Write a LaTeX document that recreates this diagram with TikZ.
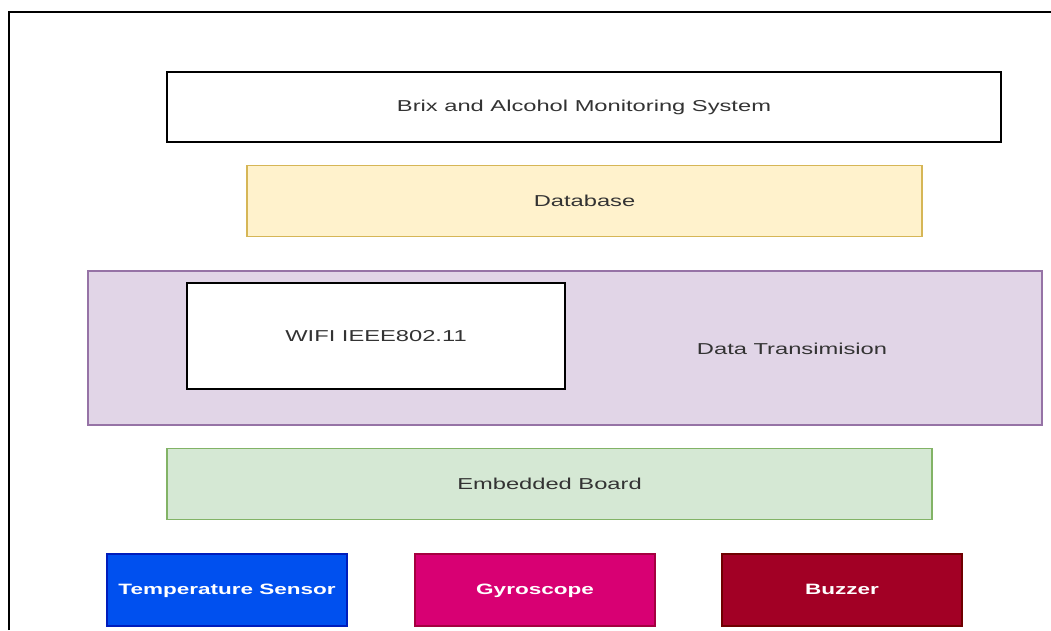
\documentclass[tikz,border=0pt]{standalone}
\usepackage{fontspec}
\setmainfont[FakeStretch=1.5]{Liberation Sans}
\usepackage{tikz}

\begin{document}
\begin{tikzpicture}[x=1pt,y=1pt,yscale=-1,xscale=1,
  blk/.style={draw, line width=1.2pt, inner sep=0pt, outer sep=0pt, font=\fontsize{15.8}{18}\selectfont, text={rgb, 255:red, 51; green, 51; blue, 51 }},
  part/.style={blk, text=white, font=\fontsize{15}{18}\selectfont\bfseries, text height=11pt, text depth=3pt, minimum width=240, minimum height=72}]
\useasboundingbox (0,0) rectangle (1051,630);
\draw [line width=1.5pt] (9,630) -- (9,12) -- (1051,12) ;
\node (sys) [blk, fill=white, minimum width=834, minimum height=70] at (584,107) {Brix and Alcohol Monitoring System};
\node (db) [blk, draw={rgb, 255:red, 214; green, 182; blue, 86 }, fill={rgb, 255:red, 255; green, 242; blue, 204 }, minimum width=675, minimum height=71] at (584.5,201) {Database};
\node (trans) [blk, draw={rgb, 255:red, 150; green, 115; blue, 166 }, fill={rgb, 255:red, 225; green, 213; blue, 231 }, minimum width=954, minimum height=154] at (565,348) {};
\node (translbl) [text={rgb, 255:red, 51; green, 51; blue, 51 }, font=\fontsize{15.8}{18}\selectfont, inner sep=0pt] at (792,349) {Data Transimision};
\node (wifi) [blk, fill=white, minimum width=378, minimum height=106] at (376,336) {WIFI IEEE802.11};
\node (board) [blk, draw={rgb, 255:red, 130; green, 179; blue, 102 }, fill={rgb, 255:red, 213; green, 232; blue, 212 }, minimum width=765, minimum height=71] at (549.5,484) {Embedded Board};
\node (temp) [part, draw={rgb, 255:red, 0; green, 29; blue, 188 }, fill={rgb, 255:red, 0; green, 80; blue, 239 }] at (227,590) {Temperature Sensor};
\node (gyro) [part, draw={rgb, 255:red, 165; green, 0; blue, 64 }, fill={rgb, 255:red, 216; green, 0; blue, 115 }] at (535,590) {Gyroscope};
\node (buzz) [part, draw={rgb, 255:red, 111; green, 0; blue, 0 }, fill={rgb, 255:red, 162; green, 0; blue, 37 }] at (842,590) {Buzzer};
\end{tikzpicture}
\end{document}
